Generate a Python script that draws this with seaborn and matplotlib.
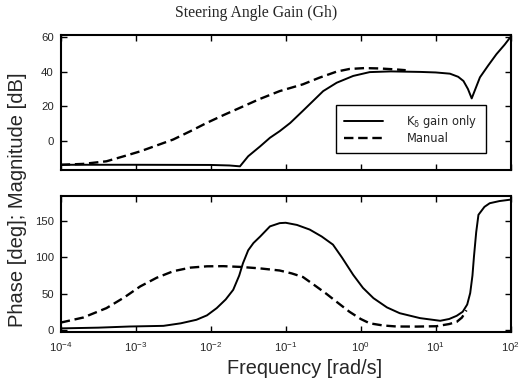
import numpy as np
import pandas as pd
import matplotlib
matplotlib.use("Agg")
import matplotlib.pyplot as plt
import seaborn as sns

# ---- data (log10 frequency) ----
mag_solid_logf = [-4.0, -3.0, -2.0, -1.75, -1.61, -1.50, -1.34, -1.21, -1.08, -0.94, -0.77, -0.50, -0.32, -0.10, 0.12, 0.40, 0.80, 1.00, 1.19, 1.30, 1.37, 1.43, 1.48, 1.52, 1.59, 1.70, 1.81, 1.92, 2.0]
mag_solid_db = [-13.5, -13.5, -13.6, -13.9, -14.4, -8.6, -2.9, 2.0, 5.8, 10.5, 17.5, 28.8, 33.6, 37.5, 39.7, 40.1, 39.8, 39.5, 38.8, 37.0, 34.6, 30.0, 24.6, 29.0, 36.7, 43.5, 50.0, 55.5, 60.0]
mag_dash_logf = [-4.0, -3.70, -3.39, -3.15, -2.94, -2.72, -2.50, -2.27, -2.05, -1.83, -1.61, -1.35, -1.08, -0.77, -0.55, -0.32, -0.15, 0.05, 0.25, 0.48, 0.60]
mag_dash_db = [-13.5, -13.0, -11.5, -8.5, -5.8, -2.4, 1.0, 5.8, 10.6, 15.0, 19.2, 24.2, 28.8, 32.7, 36.5, 40.0, 41.5, 42.0, 41.8, 41.2, 40.8]

ph_solid_logf = [-4.0, -3.5, -3.08, -2.63, -2.40, -2.19, -2.05, -1.92, -1.80, -1.70, -1.62, -1.57, -1.50, -1.43, -1.34, -1.21, -1.08, -1.00, -0.85, -0.68, -0.52, -0.37, -0.25, -0.10, 0.03, 0.17, 0.35, 0.52, 0.79, 1.06, 1.18, 1.28, 1.36, 1.42, 1.46, 1.49, 1.51, 1.54, 1.57, 1.65, 1.72, 1.85, 2.0]
ph_solid_deg = [2.0, 3.0, 4.6, 5.5, 9.0, 13.9, 20.0, 30.0, 42.0, 55.3, 75.0, 92.0, 110.0, 120.0, 129.0, 143.0, 147.5, 148.0, 145.0, 138.6, 129.0, 117.8, 100.0, 76.0, 58.0, 43.8, 31.0, 23.0, 16.2, 12.5, 15.0, 19.4, 25.0, 35.0, 50.8, 75.0, 101.0, 135.0, 159.0, 170.0, 175.0, 178.0, 180.0]
ph_dash_logf = [-4.0, -3.70, -3.39, -3.15, -2.94, -2.72, -2.50, -2.27, -2.05, -1.83, -1.61, -1.35, -1.08, -0.92, -0.77, -0.62, -0.46, -0.30, -0.15, 0.0, 0.12, 0.30, 0.48, 0.75, 1.01, 1.18, 1.28, 1.35, 1.41]
ph_dash_deg = [10.0, 17.0, 30.0, 45.0, 60.0, 72.0, 81.0, 86.0, 87.8, 88.0, 87.0, 85.0, 82.0, 78.0, 73.0, 62.0, 50.0, 37.0, 25.0, 15.0, 9.0, 6.0, 4.6, 4.5, 5.0, 8.0, 11.0, 17.0, 27.0]

series_labels = ["K$_{\\delta}$ gain only", "Manual"]
title = "Steering Angle Gain (Gh)"
xlabel = "Frequency [rad/s]"
ylabel = "Phase [deg]; Magnitude [dB]"
mag_yticks = [0, 20, 40, 60]
ph_yticks = [0, 50, 100, 150]
xticks = [1e-4, 1e-3, 1e-2, 1e-1, 1e0, 1e1, 1e2]

sns.set_style("ticks")
plt.rcParams['font.family'] = ['Liberation Sans', 'DejaVu Sans']
plt.rcParams['mathtext.fontset'] = 'custom'
plt.rcParams['mathtext.rm'] = 'Liberation Sans'
plt.rcParams['mathtext.it'] = 'Liberation Sans:italic'
plt.rcParams['mathtext.default'] = 'regular'

fig = plt.figure(figsize=(5.21, 3.79), dpi=100)
W, H = 521, 379
L, R = 60.7, 510.7
ax1 = fig.add_axes([L / W, 1 - 170 / H, (R - L) / W, (170 - 35) / H])
ax2 = fig.add_axes([L / W, 1 - 332 / H, (R - L) / W, (332 - 196) / H])

def df(logf, vals):
    return pd.DataFrame({"f": 10 ** np.array(logf), "v": vals})

lw = 1.4
dash = (4, 2)
sns.lineplot(data=df(mag_solid_logf, mag_solid_db), x="f", y="v", ax=ax1, color="black", lw=lw, label=series_labels[0])
sns.lineplot(data=df(mag_dash_logf, mag_dash_db), x="f", y="v", ax=ax1, color="black", lw=lw + 0.3, label=series_labels[1])
ax1.lines[1].set_dashes(dash)
sns.lineplot(data=df(ph_solid_logf, ph_solid_deg), x="f", y="v", ax=ax2, color="black", lw=lw)
sns.lineplot(data=df(ph_dash_logf, ph_dash_deg), x="f", y="v", ax=ax2, color="black", lw=lw + 0.3)
ax2.lines[1].set_dashes(dash)

for ax in (ax1, ax2):
    ax.set_xscale("log")
    ax.set_xlim(1e-4, 1e2)
    ax.set_xticks(xticks)
    ax.minorticks_off()
    ax.set_xlabel("")
    ax.set_ylabel("")
    ax.tick_params(direction="in", length=4, width=1, top=True, right=True, labelsize=8.2, color="black")
    ax.tick_params(axis="x", pad=6)
    ax.tick_params(axis="y", pad=5)
    for s in ax.spines.values():
        s.set_linewidth(1.5)
        s.set_color("black")
        s.set_visible(True)

ax1.set_ylim(-16.5, 61)
ax1.set_yticks(mag_yticks)
ax1.tick_params(labelbottom=False)
ax2.set_ylim(-3, 185)
ax2.set_yticks(ph_yticks)

leg = ax1.legend(loc="lower left", bbox_to_anchor=(0.612, 0.128), frameon=True,
                 prop={"family": "DejaVu Sans", "size": 8.3},
                 fancybox=False, edgecolor="black", handlelength=3.4, handletextpad=2.0,
                 borderpad=0.7, labelspacing=0.1, borderaxespad=0)
leg.get_frame().set_linewidth(1.0)
leg.get_frame().set_alpha(1)
leg.get_lines()[1].set_dashes(dash)

fig.text(256 / W, 1 - 13 / H, title, ha="center", va="center", fontsize=11.3, family="Liberation Serif")
fig.text(305 / W, 1 - 368 / H, xlabel, ha="center", va="center", fontsize=14.3)
fig.text(18 / W, 1 - 200 / H, ylabel, ha="center", va="center", rotation=90, fontsize=14.5)

fig.savefig("out.png", dpi=100)
